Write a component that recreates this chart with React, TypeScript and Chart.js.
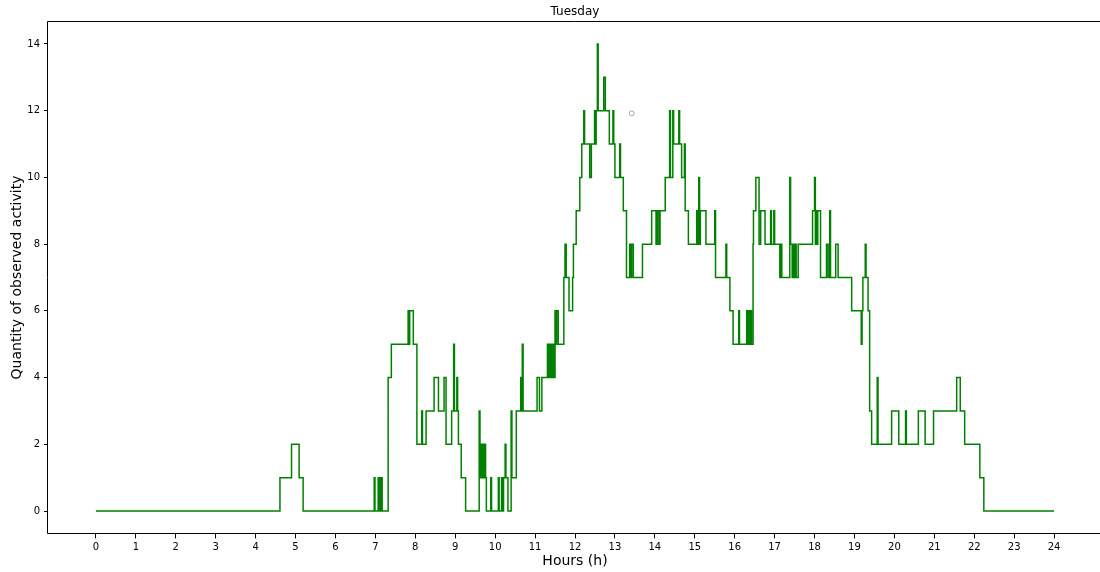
import React, { useEffect, useRef } from 'react';
import { Chart, registerables } from 'chart.js';

Chart.register(...registerables);

const TITLE = 'Tuesday';
const X_LABEL = 'Hours (h)';
const Y_LABEL = 'Quantity of observed activity';

const xTicks = [0, 1, 2, 3, 4, 5, 6, 7, 8, 9, 10, 11, 12, 13, 14, 15, 16, 17, 18, 19, 20, 21, 22, 23, 24];
const yTicks = [0, 2, 4, 6, 8, 10, 12, 14];

// Step breakpoints: value holds from hour[i] until hour[i+1]
const hours = [
  0.0, 4.61, 4.9, 5.09, 5.19, 6.97, 6.99, 7.07, 7.09, 7.12, 7.14, 7.16, 7.17,
  7.32, 7.4, 7.82, 7.84, 7.86, 7.95, 8.04, 8.16, 8.18, 8.27, 8.47, 8.58, 8.72,
  8.77, 8.91, 8.96, 8.98, 9.04, 9.06, 9.08, 9.15, 9.26, 9.6, 9.62, 9.63, 9.645,
  9.66, 9.68, 9.7, 9.72, 9.74, 9.76, 9.78, 9.89, 9.91, 10.08, 10.1, 10.16, 10.18,
  10.21, 10.25, 10.27, 10.32, 10.4, 10.42, 10.53, 10.64, 10.66, 10.68, 10.7, 11.05,
  11.11, 11.17, 11.31, 11.32, 11.35, 11.37, 11.4, 11.42, 11.44, 11.47, 11.5, 11.52,
  11.54, 11.58, 11.72, 11.75, 11.78, 11.85, 11.94, 11.96, 12.03, 12.12, 12.17, 12.22,
  12.24, 12.37, 12.41, 12.49, 12.51, 12.53, 12.56, 12.58, 12.72, 12.76, 12.86, 12.95,
  12.97, 13.0, 13.12, 13.14, 13.21, 13.29, 13.37, 13.4, 13.42, 13.46, 13.69, 13.92,
  14.03, 14.06, 14.1, 14.13, 14.26, 14.37, 14.39, 14.45, 14.47, 14.6, 14.62, 14.67,
  14.74, 14.76, 14.84, 15.05, 15.07, 15.1, 15.12, 15.14, 15.28, 15.5, 15.52, 15.78,
  15.8, 15.88, 15.96, 16.1, 16.12, 16.3, 16.32, 16.35, 16.37, 16.4, 16.42, 16.46,
  16.47, 16.53, 16.61, 16.65, 16.76, 16.9, 16.92, 16.98, 17.0, 17.13, 17.16, 17.18,
  17.38, 17.4, 17.44, 17.46, 17.49, 17.52, 17.54, 17.59, 17.95, 18.0, 18.02, 18.04,
  18.06, 18.08, 18.15, 18.3, 18.34, 18.38, 18.4, 18.53, 18.59, 18.93, 19.17, 19.19,
  19.21, 19.27, 19.29, 19.34, 19.38, 19.43, 19.57, 19.59, 19.93, 20.11, 20.28, 20.3,
  20.6, 20.77, 20.98, 21.56, 21.65, 21.76, 22.14, 22.24, 24.0,
];
const activity = [
  0, 1, 2, 1, 0, 1, 0, 1, 0, 1, 0, 1, 0,
  4, 5, 6, 5, 6, 5, 2, 3, 2, 3, 4, 3, 4,
  2, 3, 5, 3, 4, 3, 2, 1, 0, 3, 1, 2, 1,
  2, 1, 2, 1, 2, 1, 0, 1, 0, 1, 0, 1, 0,
  1, 2, 1, 0, 3, 1, 3, 4, 3, 5, 3, 4,
  3, 4, 5, 4, 5, 4, 5, 4, 5, 4, 6, 5,
  6, 5, 7, 8, 7, 6, 7, 8, 9, 10, 11, 12,
  11, 10, 11, 12, 11, 12, 14, 12, 13, 12, 11, 12,
  11, 10, 11, 10, 9, 7, 8, 7, 8, 7, 8, 9,
  8, 9, 8, 9, 10, 12, 10, 12, 11, 12, 11, 10,
  11, 9, 8, 9, 8, 10, 8, 9, 8, 9, 7, 8,
  7, 6, 5, 6, 5, 6, 5, 6, 5, 6, 5, 8,
  9, 10, 8, 9, 8, 9, 8, 9, 8, 7, 8, 7,
  10, 8, 7, 8, 7, 8, 7, 8, 9, 10, 8, 9,
  8, 9, 7, 8, 7, 9, 7, 8, 7, 6, 5, 6,
  7, 8, 7, 6, 3, 2, 4, 2, 3, 2, 3, 2,
  3, 2, 3, 4, 3, 2, 1, 0, 0,
];

const markerHour = [13.42];
const markerValue = [11.92];

const FONT = '"DejaVu Sans", sans-serif';

const textPlugin = {
  id: 'mplText',
  afterDraw(chart: any) {
    const { ctx, chartArea: a } = chart;
    ctx.save();
    ctx.strokeStyle = '#000';
    ctx.lineWidth = 1;
    const l = Math.round(a.left) - 0.5;
    const t = Math.round(a.top) + 0.5;
    const r = Math.round(a.right) - 0.5;
    const b = Math.round(a.bottom) - 0.5;
    ctx.beginPath();
    ctx.moveTo(l, t);
    ctx.lineTo(r, t);
    ctx.lineTo(r, b);
    ctx.lineTo(l, b);
    ctx.closePath();
    ctx.stroke();

    ctx.fillStyle = '#000';
    const cx = (a.left + a.right) / 2;
    ctx.font = '12px ' + FONT;
    ctx.textAlign = 'center';
    ctx.textBaseline = 'middle';
    ctx.fillText(TITLE, cx, 12);

    ctx.font = '14px ' + FONT;
    ctx.fillText(X_LABEL, cx, 561);

    ctx.translate(17, (a.top + a.bottom) / 2);
    ctx.rotate(-Math.PI / 2);
    ctx.fillText(Y_LABEL, 0, 0);
    ctx.restore();
  },
};

export default function App() {
  const ref = useRef<HTMLCanvasElement | null>(null);
  useEffect(() => {
    if (!ref.current) return;
    const lineData = hours.map((h, i) => ({ x: h, y: activity[i] }));
    const markerData = markerHour.map((h, i) => ({ x: h, y: markerValue[i] }));
    const chart = new Chart(ref.current, {
      type: 'line',
      data: {
        datasets: [
          {
            data: lineData,
            borderColor: '#008000',
            borderWidth: 1.5,
            pointRadius: 0,
            stepped: 'before',
            fill: false,
          },
          {
            data: markerData,
            showLine: false,
            pointRadius: 2.5,
            pointBorderWidth: 1,
            pointBorderColor: '#9ea3b8',
            pointBackgroundColor: 'rgba(0,0,0,0)',
          } as any,
        ],
      },
      options: {
        responsive: false,
        animation: false,
        devicePixelRatio: 1,
        layout: { autoPadding: false, padding: { top: 20.6, left: 0, right: 2, bottom: 0 } },
        plugins: { legend: { display: false }, tooltip: { enabled: false }, title: { display: false } },
        scales: {
          x: {
            type: 'linear',
            min: -1.2,
            max: 25.2,
            afterBuildTicks: (s: any) => {
              s.ticks = xTicks.map((v) => ({ value: v }));
            },
            afterFit: (s: any) => {
              s.height = 37.6;
            },
            ticks: {
              autoSkip: false,
              maxRotation: 0,
              padding: 3,
              color: '#000',
              font: { family: FONT, size: 10 },
              callback: (v: any) => String(v),
            },
            grid: { display: true, drawOnChartArea: false, drawTicks: true, tickLength: 4, color: '#000', lineWidth: 1 },
            border: { display: false },
          },
          y: {
            type: 'linear',
            min: -0.7,
            max: 14.7,
            afterBuildTicks: (s: any) => {
              s.ticks = yTicks.map((v) => ({ value: v }));
            },
            afterFit: (s: any) => {
              s.width = 48;
            },
            ticks: {
              autoSkip: false,
              padding: 4,
              color: '#000',
              font: { family: FONT, size: 10 },
              callback: (v: any) => String(v),
            },
            grid: { display: true, drawOnChartArea: false, drawTicks: true, tickLength: 4, color: '#000', lineWidth: 1 },
            border: { display: false },
          },
        },
      } as any,
      plugins: [textPlugin],
    });
    return () => chart.destroy();
  }, []);
  return (
    <div style={{ position: 'absolute', left: 0, top: 0, width: 1100, height: 572, overflow: 'hidden', background: '#fff' }}>
      <canvas ref={ref} width={1104} height={572} style={{ display: 'block' }} />
    </div>
  );
}
